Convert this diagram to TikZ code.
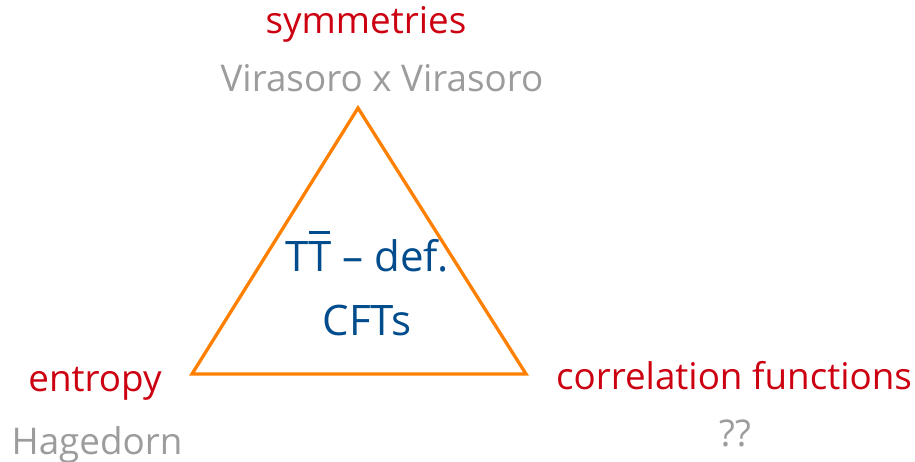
\documentclass[tikz,border=0pt]{standalone}
\usepackage{fontspec}
\setmainfont{Open Sans}
\definecolor{lblred}{HTML}{CC0010}
\definecolor{lblgray}{HTML}{9C9C9C}
\definecolor{lblblue}{HTML}{004C8C}
\definecolor{triorange}{HTML}{FF8000}
\newcommand{\tbarchar}{\leavevmode\rlap{\hspace{0.03em}\rule[0.91em]{0.5em}{0.065em}}T}
\begin{document}
\begin{tikzpicture}[x=1pt,y=-1pt,
  redlbl/.style={text=lblred,font=\fontsize{36.8}{44}\selectfont,inner sep=0pt,anchor=base},
  graylbl/.style={text=lblgray,font=\fontsize{36.8}{44}\selectfont,inner sep=0pt,anchor=base},
  bluelbl/.style={text=lblblue,font=\fontsize{42}{50}\selectfont,inner sep=0pt,anchor=base},
  tri/.style={draw=triorange,line width=3.3pt,line join=miter}]
\useasboundingbox (0,0) rectangle (915,462);
\coordinate (top) at (358,108);
\coordinate (bl) at (192,374);
\coordinate (br) at (526,374);
\draw[tri] (top) -- (br) -- (bl) -- cycle;
\node[redlbl] (sym) at (366,34) {symmetries};
\node[graylbl] (vir) at (382,92) {Virasoro x Virasoro};
\node[bluelbl] (ttbar) at (367,272) {T\tbarchar{} – def.};
\node[bluelbl] (cft) at (367,335) {CFTs};
\node[redlbl] (ent) at (95,391) {entropy};
\node[graylbl] (hag) at (97,454) {Hagedorn};
\node[redlbl] (corr) at (734,389) {correlation functions};
\node[graylbl] (qq) at (735,446) {??};
\end{tikzpicture}
\end{document}
